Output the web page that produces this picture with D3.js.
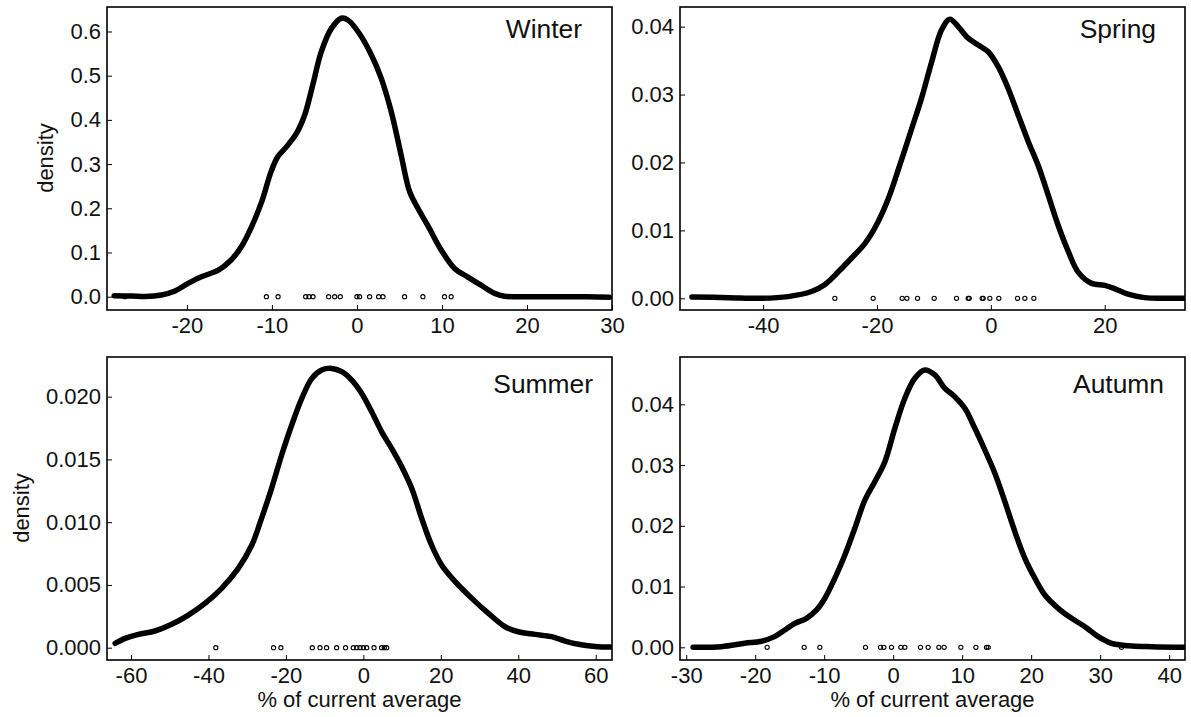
<!DOCTYPE html>
<html>
<head>
<meta charset="utf-8">
<script src="https://cdn.jsdelivr.net/npm/d3@7"></script>
<style>
  html, body { margin: 0; padding: 0; background: #ffffff; }
  svg { display: block; }
  text { font-family: "Liberation Sans", Arial, Helvetica, sans-serif; fill: #111; }
</style>
</head>
<body>
<svg id="chart" width="1191" height="717"></svg>
<script>
// ---------------- DATA ----------------
const seasons = ["Winter", "Spring", "Summer", "Autumn"];

// Winter density curve
const winterCurveX = [-28.55,-26.5,-24.9,-23.0,-21.4,-19.86,-18.3,-16.3,-14.8,-13.6,-12.4,-11.2,-10.1,-9.3,-8.3,-7.1,-6.15,-5.2,-4.2,-3.0,-1.84,-1.06,0.12,1.7,2.86,4.03,5.2,6.19,7.17,8.5,9.9,11.48,13.0,14.6,16.2,17.35,19.0,21.3,24.0,27.1,29.7];
const winterCurveY = [0.002,0.0015,0.0005,0.004,0.013,0.030,0.045,0.060,0.083,0.113,0.158,0.215,0.283,0.317,0.339,0.370,0.411,0.479,0.554,0.607,0.630,0.626,0.600,0.547,0.494,0.419,0.320,0.238,0.200,0.155,0.106,0.064,0.045,0.026,0.0075,0.001,0.0,0.0,0.0,0.0,-0.001];
const winterObs = [-27.3,-10.65,-9.28,-6.03,-5.64,-5.17,-3.33,-2.62,-1.96,0.0,0.31,1.49,2.55,3.06,5.60,7.76,10.30,11.08];

// Spring density curve
const springCurveX = [-52.5,-46.1,-40.3,-35.6,-31.5,-29.2,-26.8,-24.5,-22.1,-20.1,-18.0,-16.0,-13.9,-12.2,-10.4,-8.67,-7.2,-5.74,-3.98,-2.22,-0.47,1.29,3.04,4.8,6.56,8.3,10.07,11.8,13.6,15.3,17.7,20.0,21.8,24.1,27.0,30.5,34.0];
const springCurveY = [0.0002,0.0001,0.0,0.00025,0.001,0.002,0.0039,0.0059,0.0081,0.0108,0.0147,0.0196,0.025,0.0294,0.0348,0.0395,0.0411,0.0400,0.0383,0.0373,0.0363,0.0341,0.0309,0.0270,0.0231,0.0196,0.0152,0.0108,0.0069,0.0039,0.0022,0.0019,0.0014,0.0006,0.0001,0.0,0.0];
const springObs = [-27.4,-20.67,-15.57,-14.75,-12.88,-9.95,-6.03,-3.98,-3.8,-1.52,-1.35,-0.18,1.4,4.68,5.97,7.55];

// Summer density curve
const summerCurveX = [-64.1,-61.5,-58.1,-53.8,-49.5,-45.2,-40.9,-36.6,-32.3,-28.8,-26.3,-23.7,-21.1,-18.5,-15.9,-13.3,-10.76,-8.18,-5.6,-3.0,-0.43,2.15,4.73,7.3,9.9,12.5,15.06,17.6,20.2,23.7,28.0,32.3,36.6,40.0,44.3,48.6,52.1,55.5,59.8,64.0];
const summerCurveY = [0.00035,0.00074,0.00106,0.00133,0.00186,0.0026,0.00353,0.00473,0.00632,0.00818,0.0103,0.0127,0.01535,0.01774,0.01986,0.02146,0.02212,0.02225,0.02199,0.02132,0.02026,0.0188,0.0172,0.01588,0.01442,0.01269,0.0103,0.00818,0.00659,0.00526,0.00393,0.00273,0.00167,0.00127,0.00106,0.00088,0.00053,0.00027,0.0001,0.00005];
const summerObs = [-38.1,-23.2,-21.3,-13.2,-11.2,-9.5,-6.9,-4.6,-2.6,-1.7,-0.86,0.0,0.86,2.75,4.7,5.4,6.0];

// Autumn density curve
const autumnCurveX = [-29.0,-24.9,-21.5,-19.1,-17.2,-15.7,-14.26,-12.57,-11.1,-9.9,-8.46,-7.0,-5.56,-4.1,-2.66,-1.2,0.24,1.69,3.14,4.59,6.04,7.49,8.94,10.39,11.84,13.29,14.74,16.19,17.64,19.09,20.54,21.99,23.92,25.86,27.79,29.72,31.66,34.07,37.46,42.3];
const autumnCurveY = [0.0,0.0001,0.00066,0.001,0.00176,0.00285,0.00395,0.00477,0.00615,0.00807,0.01136,0.0152,0.0196,0.02425,0.02727,0.03056,0.03605,0.041,0.04428,0.04565,0.04483,0.04263,0.04126,0.03934,0.03605,0.03248,0.02864,0.02398,0.01904,0.01465,0.01136,0.00861,0.00642,0.00477,0.0034,0.00176,0.00066,0.00027,0.0001,0.0];
const autumnObs = [-18.27,-12.9,-10.63,-4.01,-1.84,-1.35,-0.24,1.11,1.69,3.96,5.07,6.62,7.39,9.81,11.99,13.53,13.77,33.1];

// Tick values
const winterXTicks = [-20,-10,0,10,20,30];
const winterYTicks = [0,0.1,0.2,0.3,0.4,0.5,0.6];
const springXTicks = [-40,-20,0,20];
const springYTicks = [0,0.01,0.02,0.03,0.04];
const summerXTicks = [-60,-40,-20,0,20,40,60];
const summerYTicks = [0,0.005,0.010,0.015,0.020];
const autumnXTicks = [-30,-20,-10,0,10,20,30,40];
const autumnYTicks = [0,0.01,0.02,0.03,0.04];

const yTitle = "density";
const xTitle = "% of current average";

// ---------------- LAYOUT (positions / styles) ----------------
const layout = {
  Winter: { box: [107, 7, 612, 310], xDom: [-29.4, 30.0], yDom: [-0.0301, 0.6554], yFmt: ".1f",
            label: [582, 38], yLab: [53, 158], xLab: false },
  Spring: { box: [680, 7, 1185, 310], xDom: [-54.6, 34.1], yDom: [-0.00172, 0.04289], yFmt: ".2f",
            label: [1156, 38], yLab: null, xLab: false },
  Summer: { box: [107, 357, 612, 660], xDom: [-66.2, 64.2], yDom: [-0.00098, 0.02316], yFmt: ".3f",
            label: [593, 393], yLab: [29, 508], xLab: true },
  Autumn: { box: [680, 357, 1185, 660], xDom: [-30.9, 42.3], yDom: [-0.00209, 0.04779], yFmt: ".2f",
            label: [1164, 393], yLab: null, xLab: true }
};

const seriesData = {
  Winter: { cx: winterCurveX, cy: winterCurveY, obs: winterObs, xt: winterXTicks, yt: winterYTicks },
  Spring: { cx: springCurveX, cy: springCurveY, obs: springObs, xt: springXTicks, yt: springYTicks },
  Summer: { cx: summerCurveX, cy: summerCurveY, obs: summerObs, xt: summerXTicks, yt: summerYTicks },
  Autumn: { cx: autumnCurveX, cy: autumnCurveY, obs: autumnObs, xt: autumnXTicks, yt: autumnYTicks }
};

const FONT = 22;
const svg = d3.select("#chart");
svg.append("rect").attr("width", 1191).attr("height", 717).attr("fill", "#ffffff");

seasons.forEach(name => {
  const L = layout[name], S = seriesData[name];
  const [x0, y0, x1, y1] = L.box;
  const x = d3.scaleLinear().domain(L.xDom).range([x0, x1]);
  const y = d3.scaleLinear().domain(L.yDom).range([y1, y0]);
  const g = svg.append("g");

  const clipId = "clip-" + name;
  g.append("clipPath").attr("id", clipId)
    .append("rect").attr("x", x0).attr("y", y0).attr("width", x1 - x0).attr("height", y1 - y0);

  // density curve
  const pts = S.cx.map((v, i) => [v, S.cy[i]]);
  const line = d3.line().x(d => x(d[0])).y(d => y(d[1])).curve(d3.curveCatmullRom.alpha(0.5));
  g.append("path").datum(pts)
    .attr("clip-path", `url(#${clipId})`)
    .attr("d", line)
    .attr("fill", "none").attr("stroke", "#000").attr("stroke-width", 5.5)
    .attr("stroke-linecap", "round").attr("stroke-linejoin", "round");

  // observations (rug of open circles at zero)
  g.selectAll("circle.obs").data(S.obs).enter().append("circle")
    .attr("class", "obs")
    .attr("cx", d => x(d)).attr("cy", y(0)).attr("r", 2.1)
    .attr("fill", "none").attr("stroke", "#000").attr("stroke-width", 1.1);

  // axes
  const xAxis = d3.axisBottom(x).tickValues(S.xt).tickSize(-5).tickPadding(7)
    .tickFormat(d => String(d));
  const gx = g.append("g").attr("transform", `translate(0,${y1})`).call(xAxis);
  const fmt = d3.format(L.yFmt);
  const yAxis = d3.axisLeft(y).tickValues(S.yt).tickSize(-5).tickPadding(6).tickFormat(d => fmt(d));
  const gy = g.append("g").attr("transform", `translate(${x0},0)`).call(yAxis);
  [gx, gy].forEach(a => {
    a.select(".domain").remove();
    a.selectAll(".tick line").attr("stroke", "#000").attr("stroke-width", 1);
    a.selectAll(".tick text").attr("font-size", FONT).style("fill", "#111")
      .attr("font-family", '"Liberation Sans", Arial, sans-serif');
  });

  // frame
  g.append("rect").attr("x", x0).attr("y", y0).attr("width", x1 - x0).attr("height", y1 - y0)
    .attr("fill", "none").attr("stroke", "#000").attr("stroke-width", 1.6);

  // panel label
  g.append("text").attr("x", L.label[0]).attr("y", L.label[1])
    .attr("text-anchor", "end").attr("font-size", 26.4).text(name);

  if (L.yLab) {
    g.append("text")
      .attr("transform", `translate(${L.yLab[0]},${L.yLab[1]}) rotate(-90)`)
      .attr("text-anchor", "middle").attr("font-size", FONT).text(yTitle);
  }
  if (L.xLab) {
    g.append("text").attr("x", (x0 + x1) / 2).attr("y", 707)
      .attr("text-anchor", "middle").attr("font-size", FONT).text(xTitle);
  }
});
</script>
</body>
</html>
